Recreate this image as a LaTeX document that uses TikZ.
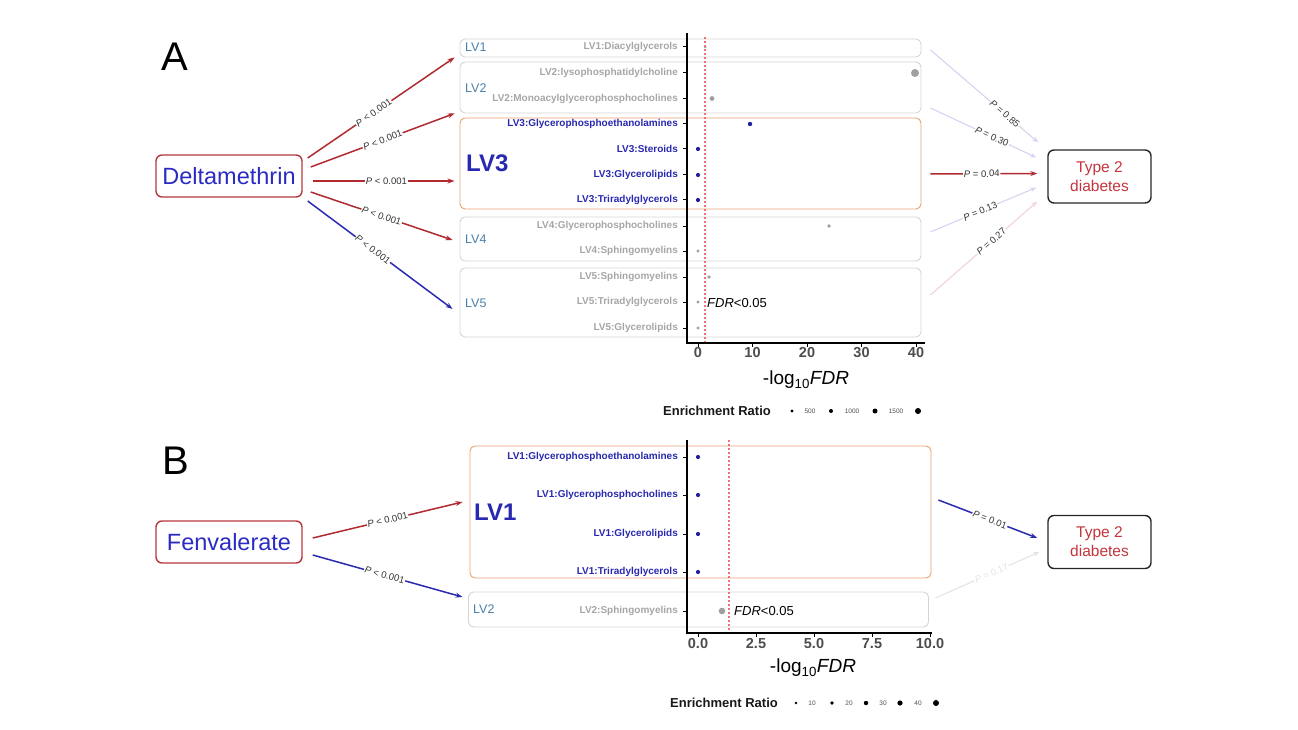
\documentclass[tikz,border=0pt]{standalone}
\usepackage{fontspec}
\setmainfont{Liberation Sans}
\usetikzlibrary{arrows.meta,calc}
\definecolor{arrred}{HTML}{B02A30}
\definecolor{arrblue}{HTML}{2A2AB0}
\definecolor{boxred}{HTML}{B5373D}
\definecolor{txtblue}{HTML}{2B2BC4}
\definecolor{steel}{HTML}{4A7FA8}
\definecolor{labgray}{HTML}{A6A6A6}
\definecolor{labblue}{HTML}{2828B0}
\definecolor{boxgray}{HTML}{D4D4D4}
\definecolor{boxorange}{HTML}{E8A070}
\definecolor{faintblue}{HTML}{D4D4F0}
\definecolor{faintpink}{HTML}{F0D2DE}
\definecolor{faintgray}{HTML}{E3E3E3}
\definecolor{t2red}{HTML}{C4343C}
\definecolor{labdark}{HTML}{333333}
\definecolor{tickgray}{HTML}{4D4D4D}
\definecolor{dotgray}{HTML}{A0A0A0}
\definecolor{dotblue}{HTML}{2020A0}
\definecolor{fdrred}{HTML}{E85050}
\newcommand\fsz[1]{\fontsize{#1}{#1}\selectfont}
\begin{document}
\begin{tikzpicture}[x=1pt,y=-1pt,
  srcbox/.style={draw=boxred,line width=1.4pt,rounded corners=6pt,minimum width=146pt,minimum height=42pt,text=txtblue,font=\fsz{23.5},inner sep=0pt},
  tdbox/.style={draw=black!85,line width=1.4pt,rounded corners=6pt,minimum width=103pt,minimum height=53pt,text=t2red,font=\fontsize{15.5}{19}\selectfont,align=center,inner sep=0pt},
  lvbox/.style={draw=boxgray,line width=0.9pt,rounded corners=5pt,inner sep=0pt,minimum width=461pt},
  sigbox/.style={draw=boxorange,line width=0.9pt,rounded corners=5pt,inner sep=0pt,minimum width=461pt},
  lvlab/.style={anchor=west,text=steel,font=\fsz{12.5},inner sep=0pt},
  biglv/.style={anchor=west,text=labblue,font=\bfseries\fsz{24},inner sep=0pt},
  rowlab/.style={anchor=east,font=\bfseries\fsz{10},inner sep=0pt},
  ticklab/.style={text=tickgray,font=\bfseries\fsz{14.5},inner sep=0pt},
  axisline/.style={line width=2pt,black},
  tickline/.style={line width=1pt,black},
  fdrline/.style={fdrred!80,line width=1.3pt,dash pattern=on 2pt off 2pt},
  plab/.style={font=\fsz{9.5},text=labdark,fill=white,inner sep=0.8pt,sloped},
  redarr/.style={arrred,line width=1.5pt,-{Stealth[length=7pt,width=5pt]}},
  bluearr/.style={arrblue,line width=1.5pt,-{Stealth[length=7pt,width=5pt]}},
  fbarr/.style={faintblue,line width=1.1pt,-{Stealth[length=6pt,width=4.5pt]}},
  fparr/.style={faintpink,line width=1.1pt,-{Stealth[length=6pt,width=4.5pt]}},
  fgarr/.style={faintgray,line width=1.1pt,-{Stealth[length=6pt,width=4.5pt]}},
  legtext/.style={anchor=west,font=\bfseries\fsz{13},text=black!90,inner sep=0pt},
  legnum/.style={font=\fsz{6.5},text=tickgray,inner sep=0pt}
]
\useasboundingbox (0,0) rectangle (1298,730);

% ---------------- Panel A ----------------
\node[font=\fsz{40},inner sep=0pt] (labA) at (175,57) {A};
\node[srcbox] (delt) at (229,176) {Deltamethrin};
\node[tdbox] (t2a) at (1099.5,176.5) {Type 2\\diabetes};

\node[lvbox,minimum height=18pt] (lv1A) at (690.5,48) {};
\node[lvbox,minimum height=51pt] (lv2A) at (690.5,87.5) {};
\node[sigbox,minimum height=91pt] (lv3A) at (690.5,163.5) {};
\node[lvbox,minimum height=44pt] (lv4A) at (690.5,239) {};
\node[lvbox,minimum height=69pt] (lv5A) at (690.5,302.5) {};

\node[lvlab] (n1A) at (465,47) {LV1};
\node[lvlab] (n2A) at (465,88) {LV2};
\node[biglv] (n3A) at (466,163) {LV3};
\node[lvlab] (n4A) at (465,239) {LV4};
\node[lvlab] (n5A) at (465,303) {LV5};

\foreach \t/\y/\c [count=\i] in {
  LV1:Diacylglycerols/47/labgray,
  LV2:lysophosphatidylcholine/73/labgray,
  LV2:Monoacylglycerophosphocholines/99/labgray,
  LV3:Glycerophosphoethanolamines/124/labblue,
  LV3:Steroids/149/labblue,
  LV3:Glycerolipids/175/labblue,
  LV3:Triradylglycerols/200/labblue,
  LV4:Glycerophosphocholines/226/labgray,
  LV4:Sphingomyelins/251/labgray,
  LV5:Sphingomyelins/277/labgray,
  LV5:Triradylglycerols/302/labgray,
  LV5:Glycerolipids/328/labgray}{
  \node[rowlab,text=\c] (rA\i) at (678,\y) {\t};
  \draw[tickline] (683,\y) -- (687,\y);
}

% points A
\fill[dotgray] (705,47) circle[radius=1.5];
\fill[dotgray] (915,73) circle[radius=4];
\fill[dotgray] (712,98.5) circle[radius=2.4];
\fill[dotblue] (750,124) circle[radius=2.2];
\fill[dotblue] (698,149) circle[radius=2.1];
\fill[dotblue] (698,175) circle[radius=2.1];
\fill[dotblue] (698,200) circle[radius=2.1];
\fill[dotgray] (829,226) circle[radius=1.8];
\fill[dotgray] (698,251) circle[radius=1.6];
\fill[dotgray] (709,277) circle[radius=1.8];
\fill[dotgray] (698,302) circle[radius=1.6];
\fill[dotgray] (698,328) circle[radius=1.6];

\draw[fdrline] (705,37) -- (705,343);
\draw[axisline] (687,33) -- (687,343) -- (925,343);
\foreach \v in {0,10,20,30,40}{
  \draw[tickline] ({698+5.45*\v},343) -- ({698+5.45*\v},347);
  \node[ticklab] (tA\v) at ({698+5.45*\v},353) {\v};
}
\node[anchor=west,font=\fsz{13},inner sep=0pt] (fdrA) at (707,303) {\textit{FDR}<0.05};
\node[font=\fsz{19},inner sep=0pt] (xlabA) at (806,380) {-log\textsubscript{10}\textit{FDR}};

\node[legtext] (legA) at (663,411) {Enrichment Ratio};
\fill[black] (792,411) circle[radius=1.6];
\fill[black] (831,411) circle[radius=2.0];
\fill[black] (875,411) circle[radius=2.5];
\fill[black] (918,411) circle[radius=3.0];
\node[legnum] (lgA1) at (810,411) {500};
\node[legnum] (lgA2) at (852,411) {1000};
\node[legnum] (lgA3) at (896,411) {1500};

% arrows A left
\draw[redarr] ([shift={(5,-18)}]delt.east) -- node[plab,pos=0.45]{\textit{P} < 0.001} ([xshift=-5pt]lv1A.south west);
\draw[redarr] ([shift={(8,-9)}]delt.east) -- node[plab]{\textit{P} < 0.001} ([xshift=-5pt]lv2A.south west);
\draw[redarr] ([shift={(10,5)}]delt.east) -- node[plab,pos=0.52]{\textit{P} < 0.001} ([shift={(-5,17.5)}]lv3A.west);
\draw[redarr] ([shift={(8,16)}]delt.east) -- node[plab]{\textit{P} < 0.001} ([shift={(-7,1)}]lv4A.west);
\draw[bluearr] ([shift={(5,25)}]delt.east) -- node[plab,pos=0.45]{\textit{P} < 0.001} ([shift={(-7,6.5)}]lv5A.west);

% arrows A right
\draw[fbarr] ([shift={(9,2)}]lv1A.east) -- node[plab,pos=0.69]{\textit{P} = 0.85} ([shift={(-9,-34)}]t2a.west);
\draw[fbarr] ([shift={(9,20.5)}]lv2A.east) -- node[plab,pos=0.58]{\textit{P} = 0.30} ([shift={(-11,-19)}]t2a.west);
\draw[redarr] ([shift={(9,10.5)}]lv3A.east) -- node[plab,pos=0.48]{\textit{P} = 0.04} ([shift={(-10,-3)}]t2a.west);
\draw[fbarr] ([shift={(9,-7)}]lv4A.east) -- node[plab,pos=0.47]{\textit{P} = 0.13} ([shift={(-11,11)}]t2a.west);
\draw[fparr] ([shift={(9,-7.5)}]lv5A.east) -- node[plab,pos=0.57]{\textit{P} = 0.27} ([shift={(-10,25)}]t2a.west);

% ---------------- Panel B ----------------
\node[font=\fsz{40},inner sep=0pt] (labB) at (176,461) {B};
\node[srcbox] (fenv) at (229,542) {Fenvalerate};
\node[tdbox] (t2b) at (1099.5,542) {Type 2\\diabetes};

\node[sigbox,minimum height=132pt] (lv1B) at (700.5,512) {};
\node[lvbox,minimum height=35pt,minimum width=460pt] (lv2B) at (698.5,609.5) {};

\node[biglv] (n1B) at (474,512) {LV1};
\node[lvlab] (n2B) at (473,609) {LV2};

\foreach \t/\y/\c [count=\i] in {
  LV1:Glycerophosphoethanolamines/457/labblue,
  LV1:Glycerophosphocholines/495/labblue,
  LV1:Glycerolipids/534/labblue,
  LV1:Triradylglycerols/572/labblue,
  LV2:Sphingomyelins/611/labgray}{
  \node[rowlab,text=\c] (rB\i) at (678,\y) {\t};
  \draw[tickline] (683,\y) -- (687,\y);
}
\fill[dotblue] (698,457) circle[radius=2.1];
\fill[dotblue] (698,495) circle[radius=2.1];
\fill[dotblue] (698,534) circle[radius=2.1];
\fill[dotblue] (698,572) circle[radius=2.1];
\fill[dotgray] (722,611) circle[radius=3.3];

\draw[fdrline] (729,440) -- (729,633);
\draw[axisline] (687,440) -- (687,633) -- (932,633);
\foreach \v/\t [count=\i] in {0/0.0,2.5/2.5,5/5.0,7.5/7.5,10/10.0}{
  \draw[tickline] ({698+23.2*\v},633) -- ({698+23.2*\v},637);
  \node[ticklab] (tB\i) at ({698+23.2*\v},644) {\t};
}
\node[anchor=west,font=\fsz{13},inner sep=0pt] (fdrB) at (734,611) {\textit{FDR}<0.05};
\node[font=\fsz{19},inner sep=0pt] (xlabB) at (813,668) {-log\textsubscript{10}\textit{FDR}};

\node[legtext] (legB) at (670,703) {Enrichment Ratio};
\fill[black] (796,703) circle[radius=1.4];
\fill[black] (832,703) circle[radius=1.8];
\fill[black] (866,703) circle[radius=2.2];
\fill[black] (900,703) circle[radius=2.6];
\fill[black] (936,703) circle[radius=3.0];
\node[legnum] (lgB1) at (812,703) {10};
\node[legnum] (lgB2) at (849,703) {20};
\node[legnum] (lgB3) at (883,703) {30};
\node[legnum] (lgB4) at (918,703) {40};

% arrows B
\draw[redarr] ([shift={(10,-4)}]fenv.east) -- node[plab,pos=0.5]{\textit{P} < 0.001} ([shift={(-7,-10)}]lv1B.west);
\draw[bluearr] ([shift={(10,13)}]fenv.east) -- node[plab,pos=0.48]{\textit{P} < 0.001} ([shift={(-5.5,-12.5)}]lv2B.west);
\draw[bluearr] ([shift={(7,-12)}]lv1B.east) -- node[plab,pos=0.52]{\textit{P} = 0.01} ([shift={(-10,-4)}]t2b.west);
\draw[fgarr] ([shift={(6.5,-11.5)}]lv2B.east) -- node[plab,pos=0.54,text=faintgray]{\textit{P} = 0.17} ([shift={(-8,10)}]t2b.west);
\end{tikzpicture}
\end{document}
